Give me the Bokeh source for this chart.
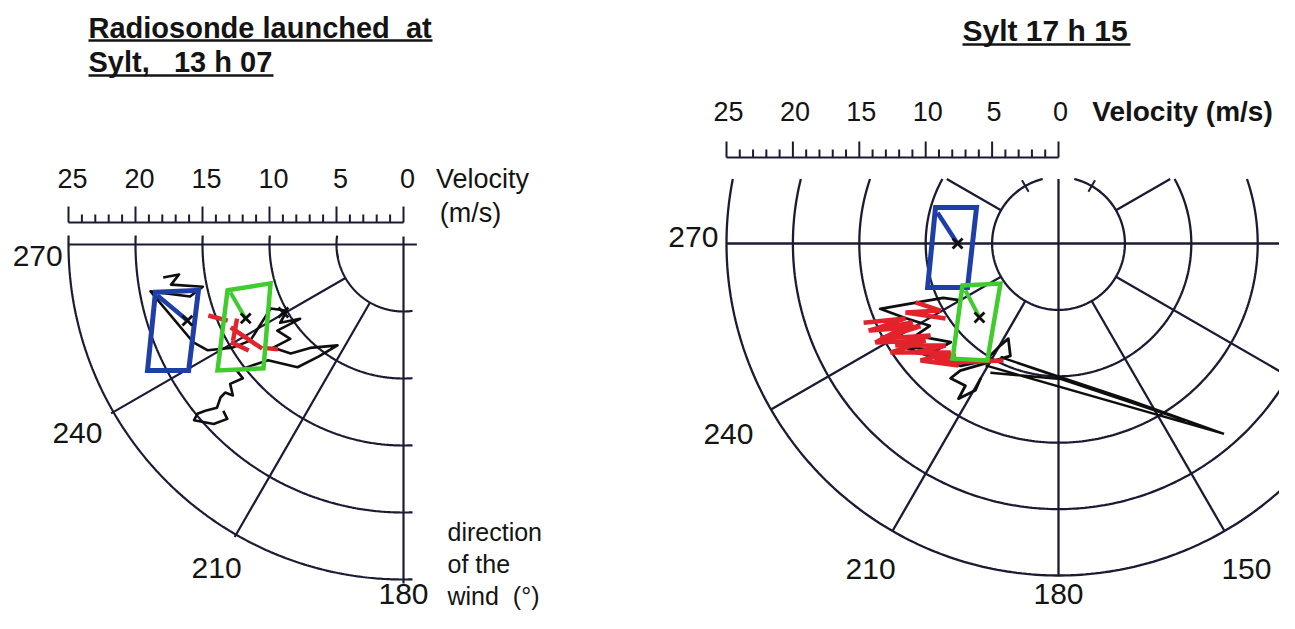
import numpy as np
from bokeh.plotting import figure
from bokeh.layouts import row
from bokeh.models import Range1d
from bokeh.core.properties import value
from bokeh.embed import file_html
from bokeh.resources import INLINE

# ------------------------------------------------------------------ data
speed_major = [0, 5, 10, 15, 20, 25]
speed_major_labels = ["0", "5", "10", "15", "20", "25"]
speed_minor = [v for v in range(0, 26) if v % 5]
ring_speeds = [5, 10, 15, 20, 25]

left_dir_ticks = [270, 240, 210, 180]
left_dir_labels = ["270", "240", "210", "180"]
right_dir_ticks = [270, 240, 210, 180, 150]
right_dir_labels = ["270", "240", "210", "180", "150"]

# --- Sylt 13 h 07 (direction in deg, speed in m/s)
L_track_dir = [262.2, 262.4, 260.2, 258.1, 256.3, 259.5, 245.0, 241.6, 238.9, 237.9,
               244.3, 240.4, 237.6, 234.3, 235.7, 230.2, 231.6, 226.0, 222.1, 213.2,
               217.2, 220.8, 229.5, 231.3, 232.8, 230.2, 231.2, 228.5, 230.3, 230.1,
               228.8, 230.0, 230.6, 230.0, 226.6, 225.3, 227.3]
L_track_spd = [18.1, 16.9, 17.6, 15.3, 16.4, 19.2, 17.3, 16.6, 14.9, 13.5,
               11.0, 10.0, 10.9, 9.5, 11.4, 11.0, 12.4, 11.7, 10.4, 9.0,
               10.5, 12.1, 13.3, 14.4, 15.6, 15.6, 16.6, 17.0, 17.3, 17.8,
               18.5, 19.3, 19.9, 20.4, 19.5, 18.5, 18.3]
L_red_dir = [[250.0, 246.6], [244.4, 233.6], [240.5, 235.6], [233.6, 230.2], [246.0, 240.6]]
L_red_spd = [[15.5, 14.3], [14.3, 13.1], [14.8, 14.0], [13.0, 12.2], [13.6, 14.6]]
L_blue_dir = [259.1, 257.4, 239.6, 243.8]
L_blue_spd = [18.85, 15.68, 18.59, 21.29]
L_blue_diag_dir = [258.3, 250.6]
L_blue_diag_spd = [18.75, 17.09]
L_green_dir = [255.4, 253.7, 228.5, 235.9]
L_green_spd = [13.57, 10.34, 13.95, 16.76]
L_green_diag_dir = [254.5, 244.9]
L_green_diag_spd = [13.40, 13.02]
L_mark_dir = [250.6, 244.9, 240.5]
L_mark_spd = [17.1, 13.0, 10.3]

# --- Sylt 17 h 15
R_track_dir = [239.8, 244.8, 249.9, 243.9, 237.4, 237.2, 227.5, 229.0, 237.2, 225.3,
               218.6, 212.0, 209.6, 207.8, 203.2, 208.3, 217.7, 218.7, 213.2, 212.8,
               209.5, 210.0]
R_track_spd = [8.5, 9.6, 14.3, 12.8, 11.5, 12.8, 11.0, 12.3, 14.2, 12.5,
               11.8, 10.4, 8.8, 8.1, 9.2, 10.0, 12.1, 13.0, 12.8, 13.9,
               12.7, 11.7]
R_long_dir = [210.9, 139.0, 155.4, 207.0, 144.4, 179.2, 207.8]
R_long_spd = [10.7, 19.0, 13.0, 9.6, 16.4, 10.2, 11.0]
R_red_dir = [[247.9, 243.9, 245.2, 239.0, 241.9, 234.3, 238.0, 227.9, 232.7, 222.6, 226.4, 219.5],
             [245.4, 241.6, 241.6, 233.9, 237.0, 224.7, 229.7, 219.3],
             [247.6, 240.4, 245.7, 236.4],
             [222.2, 205.2]]
R_red_spd = [[15.84, 12.83, 15.60, 12.13, 15.19, 11.87, 14.48, 11.46, 13.54, 11.46, 12.78, 11.61],
             [15.74, 12.50, 15.67, 12.40, 15.08, 11.55, 13.62, 11.88],
             [11.65, 10.22, 12.64, 10.21],
             [12.10, 9.73]]
R_blue_dir = [286.3, 293.7, 244.2, 251.4]
R_blue_spd = [9.65, 6.74, 7.61, 10.40]
R_blue_diag_dir = [284.3, 270.0]
R_blue_diag_spd = [9.40, 7.61]
R_green_dir = [246.4, 235.4, 211.3, 222.6]
R_green_spd = [7.89, 5.31, 10.31, 11.78]
R_green_diag_dir = [243.2, 226.9]
R_green_diag_spd = [7.85, 8.15]
R_mark_dir = [270.0, 226.9]
R_mark_spd = [7.6, 8.15]

# ------------------------------------------------------------------ style / layout
GRID = "#1b1b33"
INK = "#141414"
TRACK = "#0e0e0e"
BLUE = "#1f3ea8"
GREEN = "#3fcc2c"
RED = "#e2232c"
FONT = value("Liberation Sans")

KL, CXL, CYL = 13.4, 403.0, 244.0
KR, CXR, CYR = 13.28, 1058.0, 243.0
PAGE_TOP, H = 0, 613
WL, WR = 626, 653
XL0, XR0 = 0, 626


def make_fig(width, x0, cx, cy, k):
    p = figure(width=width, height=H,
               x_range=Range1d((x0 - cx) / k, (x0 + width - cx) / k),
               y_range=Range1d((cy - PAGE_TOP - H) / k, (cy - PAGE_TOP) / k),
               output_backend="svg", toolbar_location=None, min_border=0,
               x_axis_location=None, y_axis_location=None)
    p.grid.visible = False
    p.outline_line_color = None
    p.background_fill_color = "white"
    p.border_fill_color = "white"
    return p


def uv(dirs, spds):
    d = np.radians(np.asarray(dirs, dtype=float))
    s = np.asarray(spds, dtype=float)
    return s * np.sin(d), s * np.cos(d)


def ring(p, r, d0, d1, lw):
    d = np.linspace(d0, d1, 240)
    x, y = uv(d, np.full_like(d, r))
    p.line(x, y, line_color=GRID, line_width=lw)


def spoke(p, d, r0, r1, lw):
    x, y = uv([d, d], [r0, r1])
    p.line(x, y, line_color=GRID, line_width=lw)


def txt(p, xs, ys, s, size, bold=False, align="center", baseline="middle", xoff=0):
    p.text(x=list(xs), y=list(ys), text=list(s), text_font=FONT, text_font_size=f"{size}px",
           text_font_style="bold" if bold else "normal", text_align=align,
           text_baseline=baseline, text_color=INK, x_offset=xoff)


def pg(px, py, cx, cy, k):
    return (px - cx) / k, (cy - py) / k


def scale_bar(p, k, cy, base_py, label_py, lw, xoff):
    by = (cy - base_py) / k
    xm = [-v for v in speed_major]
    xn = [-v for v in speed_minor]
    p.segment(x0=xm, y0=[by] * len(xm), x1=xm, y1=[by + 16 / k] * len(xm), line_color=GRID, line_width=lw)
    p.segment(x0=xn, y0=[by] * len(xn), x1=xn, y1=[by + 8 / k] * len(xn), line_color=GRID, line_width=lw)
    p.segment(x0=[-25], y0=[by], x1=[0], y1=[by], line_color=GRID, line_width=lw)
    ly = (cy - label_py) / k
    txt(p, xm, [ly] * len(xm), speed_major_labels, 27, xoff=xoff)


def draw_data(p, track, extra, reds, blue, bdiag, green, gdiag, marks, lw_track, lw_red):
    x, y = uv(*track)
    p.line(x, y, line_color=TRACK, line_width=lw_track, line_join="round")
    for ex in extra:
        x, y = uv(*ex)
        p.line(x, y, line_color=TRACK, line_width=2.4)
    xs, ys = [], []
    for dd, ss in zip(*reds):
        a, b = uv(dd, ss)
        xs.append(list(a)); ys.append(list(b))
    p.multi_line(xs, ys, line_color=RED, line_width=lw_red)
    for (dd, ss), col, lw in [(blue, BLUE, 5), (green, GREEN, 4.5)]:
        a, b = uv(dd, ss)
        p.patch(list(a) + [a[0]], list(b) + [b[0]], fill_color=None, line_color=col,
                line_width=lw, line_join="miter")
    for (dd, ss), col, lw in [(bdiag, BLUE, 4.5), (gdiag, GREEN, 4)]:
        a, b = uv(dd, ss)
        p.line(a, b, line_color=col, line_width=lw)
    a, b = uv(*marks)
    p.scatter(a, b, marker="x", size=14, line_color=TRACK, line_width=2.8)


# ------------------------------------------------------------------ left panel
pl = make_fig(WL, XL0, CXL, CYL, KL)
for r in ring_speeds:
    ext = np.degrees(9.0 / (r * KL))
    ring(pl, r, 180 - ext, 270 + ext, 2.2)
spoke(pl, 270, -1.0, 25.0, 2.2)
spoke(pl, 180, -0.6, 25.3, 2.2)
for d in [240, 210]:
    spoke(pl, d, 5.0, 25.2, 2.2)
scale_bar(pl, KL, CYL, 222, 178, 2, 4)

lab_r_left = {270: 27.3, 240: 28.1, 210: 27.9, 180: 26.1}
lx, ly = uv(left_dir_ticks, [lab_r_left[d] for d in left_dir_ticks])
ly = ly.copy(); ly[0] -= 0.85
txt(pl, lx, ly, left_dir_labels, 30)

draw_data(pl, (L_track_dir, L_track_spd), [], (L_red_dir, L_red_spd),
          (L_blue_dir, L_blue_spd), (L_blue_diag_dir, L_blue_diag_spd),
          (L_green_dir, L_green_spd), (L_green_diag_dir, L_green_diag_spd),
          (L_mark_dir, L_mark_spd), 2.6, 4.5)

x, y = pg(482, 178, CXL, CYL, KL); txt(pl, [x], [y], ["Velocity"], 27)
x, y = pg(470, 212, CXL, CYL, KL); txt(pl, [x], [y], ["(m/s)"], 27)
for s, py in [("direction", 531), ("of the", 563), ("wind \u00a0(\u00b0)", 595)]:
    x, y = pg(447, py, CXL, CYL, KL)
    txt(pl, [x], [y], [s], 25, align="left")

x, y = pg(88, 27, CXL, CYL, KL)
txt(pl, [x], [y], ["Radiosonde launched \u00a0at"], 29, bold=True, align="left")
x, y = pg(88, 61, CXL, CYL, KL)
txt(pl, [x], [y], ["Sylt, \u00a0\u00a013 h 07"], 29, bold=True, align="left")
for x0p, x1p, yp in [(88, 432, 40), (88, 273, 75)]:
    a0, b0 = pg(x0p, yp, CXL, CYL, KL); a1, _ = pg(x1p, yp, CXL, CYL, KL)
    pl.segment(x0=[a0], y0=[b0], x1=[a1], y1=[b0], line_color=INK, line_width=2.5)

# ------------------------------------------------------------------ right panel
pr = make_fig(WR, XR0, CXR, CYR, KR)
YC = (CYR - 178.5) / KR
for r in ring_speeds:
    a = np.degrees(np.arccos(min(YC / r, 1.0)))
    ring(pr, r, a, 360 - a, 2.3)
spoke(pr, 270, -25.0, 25.0, 2.3)
x, y = uv([180, 180], [-YC, 25.0])
pr.line(x, y, line_color=GRID, line_width=2.3)
for d in [240, 210, 150, 120]:
    spoke(pr, d, 5.0, 25.0, 2.3)
for d in [300, 60]:
    spoke(pr, d, 5.0, YC / np.cos(np.radians(60)), 2.3)
for d in [330, 30]:
    spoke(pr, d, 4.5, 5.5, 2.0)
scale_bar(pr, KR, CYR, 157, 111, 2, 2)

lab_r_right = {270: 27.5, 240: 28.7, 210: 28.3, 180: 26.4, 150: 28.3}
rx, ry = uv(right_dir_ticks, [lab_r_right[d] for d in right_dir_ticks])
ry = ry.copy(); ry[0] += 0.5
txt(pr, rx, ry, right_dir_labels, 30)

draw_data(pr, (R_track_dir, R_track_spd), [(R_long_dir, R_long_spd)], (R_red_dir, R_red_spd),
          (R_blue_dir, R_blue_spd), (R_blue_diag_dir, R_blue_diag_spd),
          (R_green_dir, R_green_spd), (R_green_diag_dir, R_green_diag_spd),
          (R_mark_dir, R_mark_spd), 2.8, 4.5)

x, y = pg(1182, 111, CXR, CYR, KR); txt(pr, [x], [y], ["Velocity (m/s)"], 28, bold=True)
x, y = pg(962, 30, CXR, CYR, KR)
txt(pr, [x], [y], ["Sylt 17 h 15"], 30, bold=True, align="left")
a0, b0 = pg(962, 44, CXR, CYR, KR); a1, _ = pg(1130, 44, CXR, CYR, KR)
pr.segment(x0=[a0], y0=[b0], x1=[a1], y1=[b0], line_color=INK, line_width=2.5)

layout = row(pl, pr)
open("out.html", "w").write(file_html(layout, INLINE))
